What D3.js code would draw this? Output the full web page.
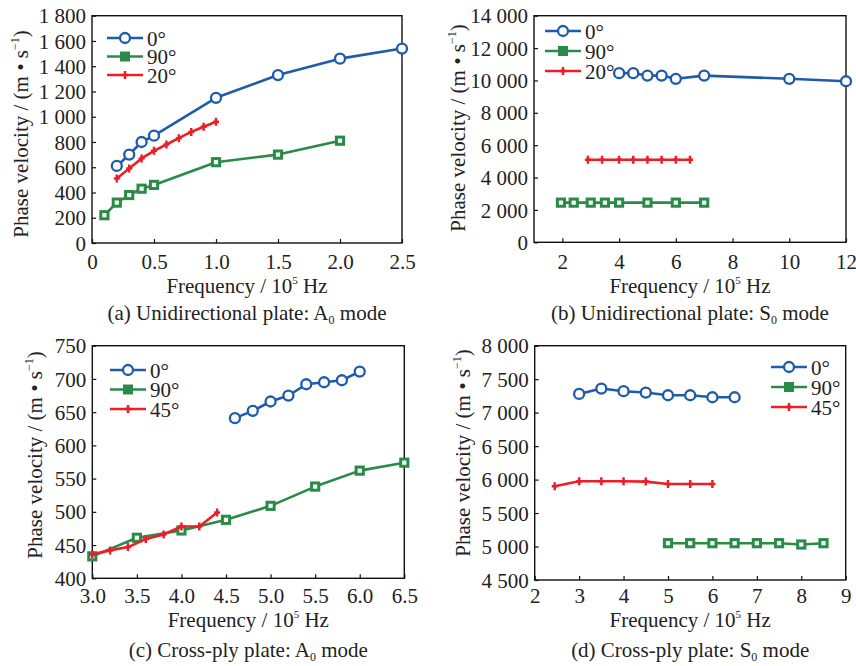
<!DOCTYPE html>
<html>
<head>
<meta charset="utf-8">
<script src="https://cdn.jsdelivr.net/npm/d3@7"></script>
<style>
  html, body { margin: 0; padding: 0; background: #fff; }
  svg { display: block; }
  text { font-family: "Liberation Serif", "Times New Roman", serif; fill: #222; }
</style>
</head>
<body>
<div id="chart"></div>
<script>
// ---- data ----
const captionsA = ['(a) Unidirectional plate: A', '(b) Unidirectional plate: S', '(c) Cross-ply plate: A', '(d) Cross-ply plate: S'];
const seriesNamesUni = ['0°', '90°', '20°'];
const seriesNamesCross = ['0°', '90°', '45°'];

// (a) unidirectional, A0
const aFreq0 = [0.2, 0.3, 0.4, 0.5, 1.0, 1.5, 2.0, 2.5];
const aVel0 = [610, 700, 800, 850, 1150, 1330, 1460, 1540];
const aFreq90 = [0.1, 0.2, 0.3, 0.4, 0.5, 1.0, 1.5, 2.0];
const aVel90 = [220, 320, 380, 430, 460, 640, 700, 810];
const aFreq20 = [0.2, 0.3, 0.4, 0.5, 0.6, 0.7, 0.8, 0.9, 1.0];
const aVel20 = [510, 590, 670, 730, 780, 830, 880, 920, 960];

// (b) unidirectional, S0
const bFreq0 = [4.0, 4.5, 5.0, 5.5, 6.0, 7.0, 10.0, 12.0];
const bVel0 = [10450, 10450, 10300, 10300, 10100, 10300, 10100, 9950];
const bFreq90 = [1.95, 2.4, 3.0, 3.5, 4.0, 5.0, 6.0, 7.0];
const bVel90 = [2450, 2450, 2450, 2450, 2450, 2450, 2450, 2450];
const bFreq20 = [2.9, 3.4, 4.0, 4.5, 5.0, 5.5, 6.0, 6.5];
const bVel20 = [5100, 5100, 5100, 5100, 5100, 5100, 5100, 5100];

// (c) cross-ply, A0
const cFreq0 = [4.6, 4.8, 5.0, 5.2, 5.4, 5.6, 5.8, 6.0];
const cVel0 = [641, 652, 666, 675, 692, 695, 698, 711];
const cFreq90 = [3.0, 3.5, 4.0, 4.5, 5.0, 5.5, 6.0, 6.5];
const cVel90 = [433, 461, 472, 488, 509, 538, 562, 574];
const cFreq45 = [3.0, 3.2, 3.4, 3.6, 3.8, 4.0, 4.2, 4.4];
const cVel45 = [436, 442, 447, 459, 466, 478, 478, 499];

// (d) cross-ply, S0
const dFreq0 = [3.0, 3.5, 4.0, 4.5, 5.0, 5.5, 6.0, 6.5];
const dVel0 = [7280, 7360, 7320, 7300, 7260, 7260, 7230, 7230];
const dFreq90 = [5.0, 5.5, 6.0, 6.5, 7.0, 7.5, 8.0, 8.5];
const dVel90 = [5050, 5050, 5050, 5050, 5050, 5050, 5030, 5050];
const dFreq45 = [2.45, 3.0, 3.5, 4.0, 4.5, 5.0, 5.5, 6.0];
const dVel45 = [5900, 5975, 5975, 5975, 5970, 5935, 5935, 5935];

// axis ticks
const aXTicks = [0, 0.5, 1.0, 1.5, 2.0, 2.5];
const aYTicks = [0, 200, 400, 600, 800, 1000, 1200, 1400, 1600, 1800];
const bXTicks = [2, 4, 6, 8, 10, 12];
const bYTicks = [0, 2000, 4000, 6000, 8000, 10000, 12000, 14000];
const cXTicks = [3.0, 3.5, 4.0, 4.5, 5.0, 5.5, 6.0, 6.5];
const cYTicks = [400, 450, 500, 550, 600, 650, 700, 750];
const dXTicks = [2, 3, 4, 5, 6, 7, 8, 9];
const dYTicks = [4500, 5000, 5500, 6000, 6500, 7000, 7500, 8000];

// ---- styling ----
const BLUE = '#1f5bab';
const GREEN = '#2a8a47';
const RED = '#ec1f28';
const FONT = 21;
const SERIF = '"Liberation Serif", "Times New Roman", serif';

const W = 856, H = 666;
const svg = d3.select('#chart').append('svg')
  .attr('width', W).attr('height', H)
  .attr('viewBox', [0, 0, W, H]);
svg.append('rect').attr('width', W).attr('height', H).attr('fill', '#fff');

const fmtThousands = d => d3.format(',')(d).replace(/,/g, ' ');

const panels = [
  {
    box: [92, 15.7, 402, 243], xDom: [0, 2.5], yDom: [0, 1800],
    xTicks: aXTicks, yTicks: aYTicks, xFmt: d => d === 0 ? '0' : d3.format('.1f')(d),
    series: [[aFreq0, aVel0], [aFreq90, aVel90], [aFreq20, aVel20]], names: seriesNamesUni,
    legend: { x: 107, y: 38, dy: 18.5 }, yLab: [21, 134], caption: captionsA[0], capSub: '0',
    tickBase: 269, titleBase: 293, capBase: 320
  },
  {
    box: [534, 15.7, 846, 242.3], xDom: [1, 12], yDom: [0, 14000],
    xTicks: bXTicks, yTicks: bYTicks, xFmt: d3.format('d'),
    series: [[bFreq0, bVel0], [bFreq90, bVel90], [bFreq20, bVel20]], names: seriesNamesUni,
    legend: { x: 545, y: 31, dy: 20 }, yLab: [458, 128], caption: captionsA[1], capSub: '0',
    tickBase: 269, titleBase: 293, capBase: 320
  },
  {
    box: [92.3, 345.7, 404.3, 578.3], xDom: [3, 6.5], yDom: [400, 750],
    xTicks: cXTicks, yTicks: cYTicks, xFmt: d3.format('.1f'),
    series: [[cFreq0, cVel0], [cFreq90, cVel90], [cFreq45, cVel45]], names: seriesNamesCross,
    legend: { x: 110, y: 370, dy: 19.5 }, yLab: [35, 455], caption: captionsA[2], capSub: '0',
    tickBase: 603, titleBase: 627, capBase: 657
  },
  {
    box: [534.7, 345.7, 845.7, 580], xDom: [2, 9], yDom: [4500, 8000],
    xTicks: dXTicks, yTicks: dYTicks, xFmt: d3.format('d'),
    series: [[dFreq0, dVel0], [dFreq90, dVel90], [dFreq45, dVel45]], names: seriesNamesCross,
    legend: { x: 771, y: 367, dy: 20 }, yLab: [463, 453], caption: captionsA[3], capSub: '0',
    tickBase: 603, titleBase: 627, capBase: 657
  }
];

const colors = [BLUE, GREEN, RED];

// marker drawers
function drawMarker(g, kind, x, y, legend) {
  if (kind === 0) {
    g.append('circle').attr('cx', x).attr('cy', y).attr('r', 5)
      .attr('fill', '#fff').attr('stroke', BLUE).attr('stroke-width', 2.3);
  } else if (kind === 1) {
    if (legend) {
      g.append('rect').attr('x', x - 5).attr('y', y - 5).attr('width', 10).attr('height', 10)
        .attr('fill', GREEN);
    } else {
      g.append('rect').attr('x', x - 3.6).attr('y', y - 3.6).attr('width', 7.2).attr('height', 7.2)
        .attr('fill', '#fff').attr('stroke', GREEN).attr('stroke-width', 3);
    }
  } else {
    g.append('path')
      .attr('d', `M${x - 3},${y}H${x + 3}M${x},${y - 4}V${y + 4}`)
      .attr('stroke', RED).attr('stroke-width', 2.5).attr('fill', 'none');
  }
}

function serifText(sel, size) {
  return sel.style('font-family', SERIF).style('font-size', size + 'px').attr('fill', '#222');
}

panels.forEach(p => {
  const [x0, y0, x1, y1] = p.box;
  const x = d3.scaleLinear().domain(p.xDom).range([x0, x1]);
  const y = d3.scaleLinear().domain(p.yDom).range([y1, y0]);
  const g = svg.append('g');

  // axes: ticks inward on bottom and left
  const xAxis = d3.axisBottom(x).tickValues(p.xTicks).tickSizeInner(-4).tickSizeOuter(0).tickFormat(p.xFmt);
  const yAxis = d3.axisLeft(y).tickValues(p.yTicks).tickSizeInner(-4).tickSizeOuter(0).tickFormat(fmtThousands);

  const gx = g.append('g').attr('transform', `translate(0,${y1})`).call(xAxis)
    .attr('font-family', null).attr('font-size', null);
  gx.select('.domain').remove();
  gx.selectAll('.tick line').attr('stroke', '#111').attr('stroke-width', 1.2);
  serifText(gx.selectAll('.tick text'), FONT)
    .attr('dy', null).attr('y', p.tickBase - y1);

  const gy = g.append('g').attr('transform', `translate(${x0},0)`).call(yAxis)
    .attr('font-family', null).attr('font-size', null);
  gy.select('.domain').remove();
  gy.selectAll('.tick line').attr('stroke', '#111').attr('stroke-width', 1.2);
  serifText(gy.selectAll('.tick text'), FONT)
    .attr('x', -6).attr('dy', '0.34em');

  // frame
  g.append('rect').attr('x', x0).attr('y', y0).attr('width', x1 - x0).attr('height', y1 - y0)
    .attr('fill', 'none').attr('stroke', '#111').attr('stroke-width', 1.4);

  // series
  const line = d3.line().x(d => x(d[0])).y(d => y(d[1]));
  p.series.forEach((s, i) => {
    const pts = s[0].map((f, k) => [f, s[1][k]]);
    g.append('path').datum(pts).attr('d', line)
      .attr('fill', 'none').attr('stroke', colors[i]).attr('stroke-width', 2.6)
      .attr('stroke-linejoin', 'round');
    const mg = g.append('g');
    pts.forEach(d => drawMarker(mg, i, x(d[0]), y(d[1]), false));
  });

  // legend
  p.names.forEach((name, i) => {
    const ly = p.legend.y + i * p.legend.dy;
    g.append('line').attr('x1', p.legend.x).attr('x2', p.legend.x + 36)
      .attr('y1', ly).attr('y2', ly).attr('stroke', colors[i]).attr('stroke-width', 2.6);
    drawMarker(g, i, p.legend.x + 18, ly, true);
    serifText(g.append('text'), FONT).attr('x', p.legend.x + 40).attr('y', ly + 7.5)
      .text(name);
  });

  // y label
  const yl = serifText(g.append('text'), FONT)
    .attr('transform', `translate(${p.yLab[0]},${p.yLab[1]}) rotate(-90)`)
    .attr('text-anchor', 'middle')
    .attr('dy', '0.34em');
  yl.append('tspan').text('Phase velocity / (m • s');
  yl.append('tspan').style('font-size', '12px').attr('dy', -9).text('−1');
  yl.append('tspan').attr('dy', 9).text(')');

  // x title
  const cx = (x0 + x1) / 2;
  const xt = serifText(g.append('text'), FONT).attr('x', cx).attr('y', p.titleBase)
    .attr('text-anchor', 'middle');
  xt.append('tspan').text('Frequency / 10');
  xt.append('tspan').style('font-size', '11px').attr('dy', -9).text('5');
  xt.append('tspan').attr('dy', 9).text(' Hz');

  // caption
  const ct = serifText(g.append('text'), FONT).attr('x', cx).attr('y', p.capBase)
    .attr('text-anchor', 'middle');
  ct.append('tspan').text(p.caption);
  ct.append('tspan').style('font-size', '12px').attr('dy', 4).text(p.capSub);
  ct.append('tspan').attr('dy', -4).text(' mode');
});
</script>
</body>
</html>
